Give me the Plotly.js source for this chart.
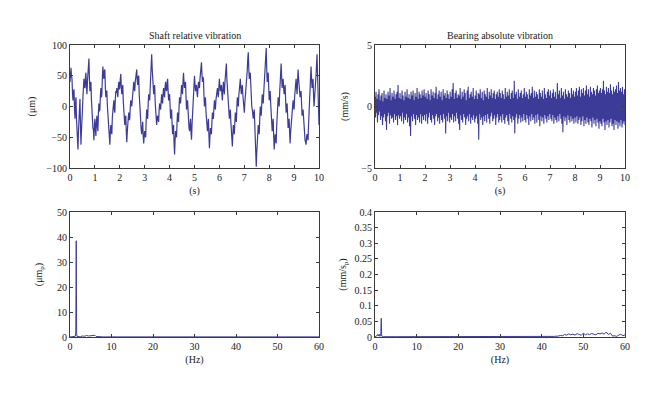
<!DOCTYPE html>
<html>
<head>
<meta charset="utf-8">
<script src="https://cdn.plot.ly/plotly-3.0.1.min.js"></script>
<style>html,body{margin:0;padding:0;background:#fff;}#chart{width:660px;height:395px;}</style>
</head>
<body>
<div id="chart"></div>
<script>
// ---------- DATA ----------
const shaftDuration = 10; // s
const shaftValues = [
 40,55,63,50,45,22,10,24,28,-2,-20,5,15,-20,-45,-52,-70,-40,-25,-10,12,-30,-62,-40,-30,-5,15,38,45,32,30,48,55,32,20,40,50,68,78,45,25,36,40,12,-10,-28,-35,-38,-55,-30,
 -20,-38,-48,-25,-15,-32,-40,-12,5,-8,-5,18,30,15,20,48,65,50,45,58,60,30,15,25,25,2,-15,-32,-40,-55,-62,-40,-30,-42,-45,-18,-5,8,10,-5,-10,12,25,22,30,18,15,32,40,28,
 30,45,53,32,20,30,35,8,-10,-22,-30,-18,-15,-40,-58,-42,-35,-18,-10,-22,-20,-2,10,8,0,15,25,35,40,28,25,40,45,55,60,42,35,48,50,20,0,-12,-20,-38,-45,-30,-25,-48,-60,-48,
 -40,-48,-50,-22,-5,-15,-20,5,20,12,10,30,45,70,85,62,50,30,20,30,35,8,-10,-22,-30,-18,-15,-22,-25,-5,5,0,-5,10,20,8,5,22,30,20,15,32,40,28,25,38,45,25,10,18,
 20,0,-20,-8,-5,-28,-45,-35,-30,-60,-78,-55,-40,-48,-50,-25,-10,-20,-25,0,15,8,5,22,35,25,20,42,55,38,30,38,40,15,-5,5,10,-12,-25,-35,-40,-28,-20,-42,-54,-30,-15,0,10,32,
 50,35,25,32,35,22,15,30,40,32,30,45,55,65,72,52,40,48,45,18,0,10,15,-8,-25,-35,-40,-28,-20,-48,-68,-48,-35,-42,-45,-25,-10,-18,-20,-2,10,0,-5,10,20,28,30,20,15,32,
 45,32,25,32,35,20,10,28,40,28,20,38,50,62,70,45,30,15,5,-10,-20,-10,-5,-25,-40,-55,-65,-45,-30,-40,-45,-25,-10,-20,-25,-2,15,5,0,18,30,40,45,30,20,30,35,20,10,-2,
 -10,5,15,25,30,48,60,78,88,62,45,52,55,30,10,0,-5,-15,-20,-10,-5,-28,-45,-72,-98,-75,-60,-42,-30,-40,-45,-20,0,-10,-15,5,20,10,5,22,35,45,50,75,95,62,40,50,55,30,
 10,20,25,5,-15,-30,-40,-28,-20,-48,-70,-55,-45,-55,-60,-32,-10,5,15,8,0,22,40,58,70,48,30,40,45,30,20,30,35,10,-10,0,5,-18,-35,-25,-20,-42,-60,-42,-30,-18,-10,2,10,0,
 -5,15,30,40,45,30,20,42,60,45,35,22,15,22,25,5,-15,-8,-5,-25,-40,-50,-55,-58,-62,-50,-45,-52,-55,-30,-10,8,20,45,65,45,30,40,45,20,0,12,20,38,50,70,85,55,30,0,-30
];

const bearingDuration = 10; // s
const bearingValues = [
 0.8,-0.9,1.2,-0.5,0.6,-1.3,1.0,-0.7,1.4,-0.4,0.5,-1.1,0.9,-0.8,1.1,-1.5,0.4,-0.9,1.3,-0.6,0.7,-1.2,1.0,-1.9,0.6,-0.8,1.2,-0.5,0.9,-1.4,1.5,-0.7,0.5,-1.0,1.1,-0.9,0.8,-1.3,1.3,-0.6,0.6,-1.1,1.0,-0.8,1.2,-1.5,1.75,-0.7,0.7,-1.0,
 1.1,-0.8,0.6,-1.2,1.3,-0.5,0.9,-1.4,0.5,-0.9,1.2,-1.1,0.8,-0.6,1.4,-1.3,0.7,-0.9,1.0,-1.6,0.6,-2.4,1.2,-0.8,0.9,-1.2,1.3,-0.6,0.5,-1.0,1.1,-1.5,0.8,-0.7,1.5,-1.1,0.6,-0.9,1.2,-1.3,1.0,-0.6,0.7,-1.4,1.3,-0.8,0.9,-1.1,1.4,-0.7,
 0.8,-1.2,1.1,-0.6,0.6,-1.4,1.3,-0.9,1.0,-0.5,0.5,-1.1,1.4,-1.3,0.9,-0.7,1.2,-1.0,0.7,-1.5,1.1,-0.8,1.6,-0.6,0.6,-1.2,1.0,-0.9,1.3,-1.4,0.8,-0.7,1.2,-1.1,0.5,-1.3,1.4,-0.6,0.9,-1.0,1.1,-2.2,0.7,-0.8,1.3,-1.2,1.0,-0.5,0.6,-1.3,
 1.2,-0.9,0.8,-1.1,1.4,-0.6,1.9,-1.3,0.6,-0.8,1.1,-1.2,1.3,-0.5,0.7,-1.0,1.0,-1.4,0.9,-1.9,1.5,-0.7,0.6,-1.1,1.2,-1.3,0.8,-0.6,1.4,-0.9,1.1,-1.5,0.5,-1.0,1.3,-0.8,1.6,-1.2,0.7,-0.6,1.0,-1.4,1.2,-0.9,0.8,-1.1,1.5,-0.7,0.6,-1.3,
 0.9,-1.0,1.3,-0.8,0.6,-1.4,1.1,-2.7,1.0,-0.6,1.4,-1.1,0.7,-0.9,1.2,-1.5,0.5,-0.8,1.3,-1.2,1.0,-0.7,0.8,-1.3,1.5,-0.6,0.6,-1.0,1.2,-1.4,0.9,-0.8,1.4,-0.5,0.7,-1.2,1.1,-1.0,1.3,-0.7,0.6,-1.5,1.0,-0.9,1.2,-0.6,0.8,-1.3,1.4,-1.1,
 1.1,-0.8,0.7,-1.3,1.3,-0.6,1.0,-1.1,0.6,-1.4,1.5,-0.9,0.8,-0.7,1.2,-1.2,0.9,-1.5,1.4,-0.6,0.6,-1.0,1.1,-1.3,1.3,-0.8,0.7,-1.1,2.1,-2.2,1.0,-0.9,1.2,-0.6,0.6,-1.4,1.4,-1.0,0.8,-0.7,1.1,-1.3,1.3,-0.9,0.7,-1.2,1.0,-0.6,1.5,-1.1,
 0.8,-1.3,1.2,-0.7,1.0,-1.0,0.6,-1.5,1.4,-0.8,0.9,-1.2,1.1,-0.6,1.6,-1.1,0.7,-0.9,1.3,-1.4,0.8,-0.7,1.2,-1.3,1.0,-0.6,0.6,-1.1,1.4,-1.6,1.1,-0.8,0.8,-1.2,1.3,-0.9,0.6,-1.4,1.5,-0.7,1.0,-1.0,0.7,-1.3,1.2,-0.8,1.4,-1.1,0.9,-0.6,
 1.3,-1.0,0.7,-1.2,1.1,-0.7,1.4,-1.4,0.8,-0.9,1.2,-1.1,0.6,-1.3,1.9,-0.8,1.0,-1.2,1.3,-0.6,0.7,-1.0,1.5,-1.4,0.9,-2.1,1.2,-0.8,0.6,-1.2,1.4,-0.9,1.0,-1.5,0.8,-0.7,1.3,-1.1,1.1,-1.3,0.7,-0.8,1.5,-1.2,1.0,-1.0,1.3,-1.4,0.8,-0.9,
 1.2,-1.3,1.5,-0.8,0.9,-1.4,1.3,-1.1,1.6,-0.9,0.8,-1.5,1.4,-1.2,1.1,-0.8,1.5,-1.6,0.9,-1.1,1.3,-1.4,1.7,-0.9,1.0,-1.3,1.4,-1.5,0.8,-1.0,1.6,-1.2,1.2,-1.7,1.0,-0.9,1.5,-1.4,1.3,-1.1,0.9,-1.6,1.4,-1.0,1.7,-1.3,1.1,-1.8,1.3,-1.2,
 1.5,-1.4,1.1,-1.6,1.4,-1.0,2.1,-1.3,1.3,-1.9,1.0,-1.2,1.6,-1.5,1.2,-1.1,1.5,-1.7,1.1,-1.3,1.8,-1.0,1.3,-1.6,1.0,-1.4,1.6,-1.9,1.2,-1.1,1.4,-1.5,1.7,-1.2,1.1,-1.8,2.0,-1.3,1.3,-1.6,1.5,-1.1,1.2,-1.7,1.6,-1.4,1.0,-1.2,1.4,-1.5
];

const shaftFreq = [0,1.0,1.3,1.4,1.5,1.6,1.7,2.5,3.0,3.5,4.0,4.5,5.0,5.5,6.0,6.3,7.0,8.0,10,15,20,30,40,50,60];
const shaftAmp  = [0,0.1,0.3,2.0,38.5,1.5,0.2,0.1,0.4,0.3,0.6,0.4,0.5,0.3,0.7,0.2,0.1,0.05,0.05,0.05,0.1,0.05,0.05,0.05,0.05];

const bearingFreq = [0,0.3,0.6,0.8,1.0,1.2,1.4,1.5,1.6,1.8,2.0,5,10,20,30,40,42,43,44,44.5,45,45.5,46,46.5,47,47.5,48,48.5,49,49.5,50,50.5,51,51.5,52,52.5,53,53.5,54,54.5,55,55.5,56,56.5,57,57.5,58,58.5,59,59.5,60];
const bearingAmp  = [0,0.002,0.008,0.003,0.009,0.002,0.01,0.06,0.003,0.001,0.001,0.001,0.001,0,0,0.001,0.001,0.002,0.003,0.005,0.004,0.008,0.006,0.01,0.007,0.009,0.006,0.011,0.008,0.006,0.012,0.007,0.01,0.008,0.011,0.009,0.007,0.012,0.01,0.013,0.009,0.016,0.008,0.012,0.003,0.004,0.002,0.006,0.009,0.004,0.007];

const titles = ['Shaft relative vibration', 'Bearing absolute vibration'];

// ---------- PLOT ----------
const shaftTime = shaftValues.map((_, i) => i * shaftDuration / (shaftValues.length - 1));
const bearingTime = bearingValues.map((_, i) => i * bearingDuration / (bearingValues.length - 1));
const lineColor = '#3c3c98';
const FONT = 'Liberation Serif';
const TXT = '#1a1a1a';

const traces = [
  {x: shaftTime, y: shaftValues, xaxis: 'x', yaxis: 'y', type: 'scatter', mode: 'lines', line: {color: lineColor, width: 1.2}},
  {x: bearingTime, y: bearingValues, xaxis: 'x2', yaxis: 'y2', type: 'scatter', mode: 'lines', line: {color: lineColor, width: 1.1}},
  {x: shaftFreq, y: shaftAmp, xaxis: 'x3', yaxis: 'y3', type: 'scatter', mode: 'lines', line: {color: lineColor, width: 1}},
  {x: bearingFreq, y: bearingAmp, xaxis: 'x4', yaxis: 'y4', type: 'scatter', mode: 'lines', line: {color: lineColor, width: 1}}
];

function ax(extra) {
  return Object.assign({
    showline: true, linecolor: '#3a3a3a', linewidth: 1, mirror: 'ticks',
    ticks: 'inside', ticklen: 3, tickcolor: '#3a3a3a', tickwidth: 1,
    showgrid: false, zeroline: false, automargin: false, fixedrange: true,
    tickfont: {family: FONT, size: 10, color: TXT}
  }, extra);
}
function at(text, standoff) {
  return {text: text, font: {family: FONT, size: 10, color: TXT}, standoff: standoff};
}

const W = 660, H = 395;
const dxL = [70 / W, 319 / W], dxR = [375 / W, 625 / W];
const dyT = [1 - 168 / H, 1 - 45 / H], dyB = [1 - 337 / H, 1 - 212 / H];

const layout = {
  width: W, height: H,
  margin: {l: 0, r: 0, t: 0, b: 0},
  paper_bgcolor: '#fff', plot_bgcolor: '#fff',
  showlegend: false,
  xaxis: ax({domain: dxL, anchor: 'y', range: [0, 10], dtick: 1, title: at('(s)', 4)}),
  yaxis: ax({domain: dyT, anchor: 'x', range: [-100, 100], dtick: 50, title: at('(μm)', 8)}),
  xaxis2: ax({domain: dxR, anchor: 'y2', range: [0, 10], dtick: 1, title: at('(s)', 4)}),
  yaxis2: ax({domain: dyT, anchor: 'x2', range: [-5, 5], dtick: 5, title: at('(mm/s)', 10)}),
  xaxis3: ax({domain: dxL, anchor: 'y3', range: [0, 60], dtick: 10, title: at('(Hz)', 4)}),
  yaxis3: ax({domain: dyB, anchor: 'x3', range: [0, 50], dtick: 10, title: at('(μm<sub>p</sub>)', 12)}),
  xaxis4: ax({domain: dxR, anchor: 'y4', range: [0, 60], dtick: 10, title: at('(Hz)', 4)}),
  yaxis4: ax({domain: dyB, anchor: 'x4', range: [0, 0.4], dtick: 0.05, title: at('(mm/s<sub>p</sub>)', 6)}),
  annotations: [
    {text: titles[0], xref: 'paper', yref: 'paper', x: (dxL[0] + dxL[1]) / 2, xanchor: 'center', y: dyT[1], yanchor: 'bottom', yshift: 2, showarrow: false, font: {family: FONT, size: 10, color: TXT}},
    {text: titles[1], xref: 'paper', yref: 'paper', x: (dxR[0] + dxR[1]) / 2, xanchor: 'center', y: dyT[1], yanchor: 'bottom', yshift: 2, showarrow: false, font: {family: FONT, size: 10, color: TXT}}
  ]
};

Plotly.newPlot('chart', traces, layout, {staticPlot: true, displayModeBar: false});
</script>
</body>
</html>
